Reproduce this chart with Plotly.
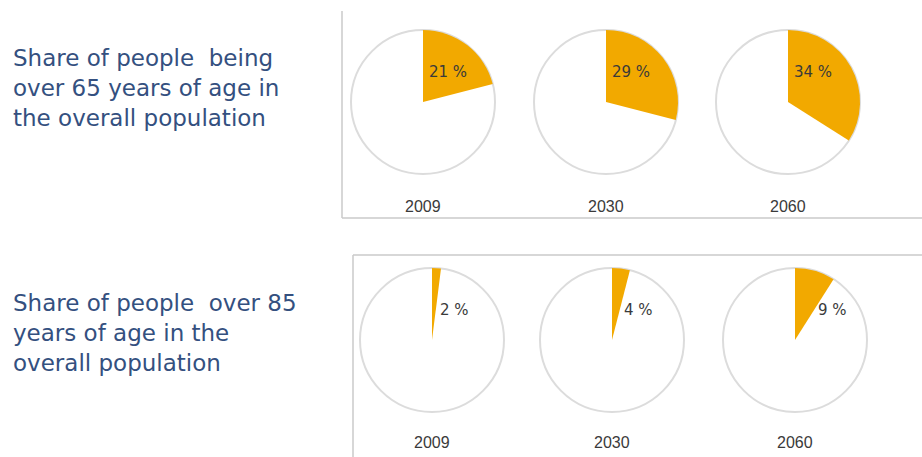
import plotly.graph_objects as go

# ---- data ----
years = ["2009", "2030", "2060"]
share_over65 = [21, 29, 34]
share_over85 = [2, 4, 9]
title_over65 = "Share of people  being<br>over 65 years of age in<br>the overall population"
title_over85 = "Share of people  over 85<br>years of age in the<br>overall population"

W, H = 922, 457
ORANGE = "#F2A900"
OUTLINE = "#dcdcdc"
TITLE_COLOR = "#34507F"
BORDER = "#cacaca"

# layout (pixels)
rows = [
    dict(values=share_over65, title=title_over65, cy=102, cx=[423, 606, 788], r=72,
         title_y=88, year_y=206, inside=True,
         edges=[(342, 11, 342, 218), (342, 218, 930, 218)]),
    dict(values=share_over85, title=title_over85, cy=340, cx=[432, 612, 795], r=72,
         title_y=333, year_y=442, inside=False,
         edges=[(353, 255, 930, 255), (353, 255, 353, 470)]),
]

def px_x(x):
    return x / W

def px_y(y):
    return 1 - y / H

fig = go.Figure()
shapes = []
annotations = []

for row in rows:
    for (ax, ay, bx, by) in row["edges"]:
        shapes.append(dict(type="line", xref="paper", yref="paper",
                           x0=px_x(ax), x1=px_x(bx), y0=px_y(ay), y1=px_y(by),
                           line=dict(color=BORDER, width=1.5), layer="below"))
    annotations.append(dict(text=row["title"], xref="paper", yref="paper",
                            x=px_x(11), y=px_y(row["title_y"]), xanchor="left", yanchor="middle",
                            align="left", showarrow=False,
                            font=dict(family="DejaVu Sans", size=23, color=TITLE_COLOR)))
    for i, (yr, v) in enumerate(zip(years, row["values"])):
        cx, cy, r = row["cx"][i], row["cy"], row["r"]
        dom = dict(x=[px_x(cx - r), px_x(cx + r)], y=[px_y(cy + r), px_y(cy - r)])
        # outline circle
        fig.add_trace(go.Pie(values=[1], labels=["all"], domain=dom, sort=False,
                             marker=dict(colors=["white"], line=dict(color=OUTLINE, width=2)),
                             textinfo="none", hoverinfo="skip", showlegend=False))
        fig.add_trace(go.Pie(values=[v, 100 - v], labels=["share", "rest"], domain=dom,
                             sort=False, direction="clockwise", rotation=0,
                             marker=dict(colors=[ORANGE, "rgba(0,0,0,0)"], line=dict(width=0)),
                             textinfo="none", hoverinfo="label+value", showlegend=False))
        dx = 25 if row["inside"] else 18 + 2.2 * v
        annotations.append(dict(text=f"{v} %", xref="paper", yref="paper",
                                x=px_x(cx + dx), y=px_y(cy - 30), xanchor="center", yanchor="middle",
                                showarrow=False,
                                font=dict(family="DejaVu Sans", size=15, color="#3a3a3a")))
        annotations.append(dict(text=yr, xref="paper", yref="paper",
                                x=px_x(cx), y=px_y(row["year_y"]), xanchor="center", yanchor="middle",
                                showarrow=False,
                                font=dict(family="Liberation Sans", size=16, color="#3a3a3a")))

fig.update_layout(width=W, height=H, margin=dict(l=0, r=0, t=0, b=0),
                  paper_bgcolor="white", plot_bgcolor="white",
                  shapes=shapes, annotations=annotations, showlegend=False)

fig.write_html("out.html")
